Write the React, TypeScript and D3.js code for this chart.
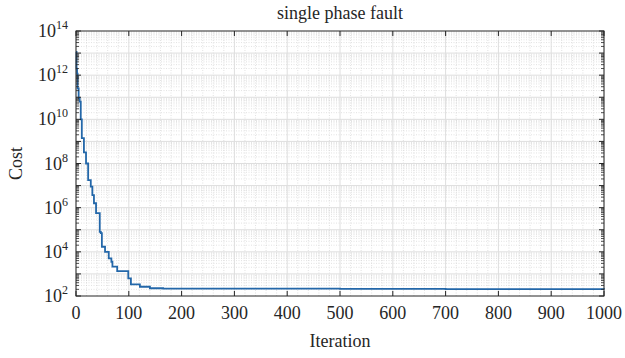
import React from "react";
import * as d3 from "d3";

const iterations = [0, 1, 2, 3, 5, 7, 9, 11, 15, 19, 23, 28, 31, 34, 38, 45, 47, 49, 55, 62, 67, 69, 78, 99, 104, 121, 140, 165, 300, 500, 700, 1000];
const logCost = [13.05, 12.3, 12.07, 11.4, 10.96, 10.8, 10.0, 9.15, 8.5, 8.0, 7.25, 6.95, 6.57, 6.2, 5.75, 4.9, 4.85, 4.23, 4.0, 3.7, 3.55, 3.33, 3.13, 2.8, 2.53, 2.42, 2.35, 2.33, 2.33, 2.32, 2.31, 2.3];
const costs = logCost.map((l) => Math.pow(10, l));
const xTicks = [0, 100, 200, 300, 400, 500, 600, 700, 800, 900, 1000];
const yTickExps = [2, 4, 6, 8, 10, 12, 14];

const W = 625, H = 358;
const M = { left: 76, right: 21, top: 31, bottom: 62 };

export default function App() {
  const x = d3.scaleLinear().domain([0, 1000]).range([M.left, W - M.right]);
  const y = d3.scaleLog().domain([1e2, 1e14]).range([H - M.bottom, M.top]);
  const x0 = M.left, x1 = W - M.right, y0 = H - M.bottom, y1 = M.top;

  const minorY: number[] = [];
  for (let e = 2; e < 14; e++) for (let k = 2; k <= 9; k++) minorY.push(k * Math.pow(10, e));
  const decadeY: number[] = [];
  for (let e = 3; e < 14; e++) decadeY.push(Math.pow(10, e));
  const minorX: number[] = [];
  for (let v = 20; v < 1000; v += 20) if (v % 100 !== 0) minorX.push(v);

  const pts = iterations.map((it, i) => [it, costs[i]] as [number, number]);
  const line = d3.line<[number, number]>().x((d) => x(d[0])).y((d) => y(d[1])).curve(d3.curveStepAfter);

  const font = "'Liberation Serif', 'DejaVu Serif', serif";
  const axisColor = "#262626";

  return (
    <svg width={W} height={H} style={{ position: "absolute", left: 0, top: 0 }} fontFamily={font}>
      <rect x={0} y={0} width={W} height={H} fill="#fff" />
      <rect x={x0} y={y1} width={x1 - x0} height={y0 - y1} fill="#fff" />
      {minorY.map((v, i) => (
        <line key={"my" + i} x1={x0} x2={x1} y1={y(v)} y2={y(v)} stroke="#cfcfcf" strokeWidth={0.6} strokeDasharray="1,1.5" />
      ))}
      {minorX.map((v, i) => (
        <line key={"mx" + i} x1={x(v)} x2={x(v)} y1={y0} y2={y1} stroke="#cfcfcf" strokeWidth={0.6} strokeDasharray="1,1.5" />
      ))}
      {decadeY.map((v, i) => (
        <line key={"gy" + i} x1={x0} x2={x1} y1={y(v)} y2={y(v)} stroke="#dedede" strokeWidth={1} />
      ))}
      {xTicks.map((v, i) => (
        <line key={"gx" + i} x1={x(v)} x2={x(v)} y1={y0} y2={y1} stroke="#dedede" strokeWidth={1} />
      ))}
      <path d={line(pts) || ""} fill="none" stroke="#2367a9" strokeWidth={1.8} />
      <rect x={x0} y={y1} width={x1 - x0} height={y0 - y1} fill="none" stroke={axisColor} strokeWidth={1} />
      {xTicks.map((v, i) => (
        <g key={"xt" + i}>
          <line x1={x(v)} x2={x(v)} y1={y0} y2={y0 - 5} stroke={axisColor} />
          <line x1={x(v)} x2={x(v)} y1={y1} y2={y1 + 5} stroke={axisColor} />
          <text x={x(v)} y={y0 + 23} textAnchor="middle" fontSize={18} fill={axisColor}>{v}</text>
        </g>
      ))}
      {decadeY.concat([1e2, 1e14]).map((v, i) => (
        <g key={"yt" + i}>
          <line x1={x0} x2={x0 + 5} y1={y(v)} y2={y(v)} stroke={axisColor} />
          <line x1={x1} x2={x1 - 5} y1={y(v)} y2={y(v)} stroke={axisColor} />
        </g>
      ))}
      {minorY.map((v, i) => (
        <g key={"ymt" + i}>
          <line x1={x0} x2={x0 + 3} y1={y(v)} y2={y(v)} stroke={axisColor} strokeWidth={0.8} />
          <line x1={x1} x2={x1 - 3} y1={y(v)} y2={y(v)} stroke={axisColor} strokeWidth={0.8} />
        </g>
      ))}
      {yTickExps.map((e, i) => (
        <text key={"yl" + i} x={x0 - 8} y={y(Math.pow(10, e)) + 6} textAnchor="end" fontSize={18} fill={axisColor}>
          10<tspan dy={-8} fontSize={12}>{e}</tspan>
        </text>
      ))}
      <text x={(x0 + x1) / 2} y={19} textAnchor="middle" fontSize={18} fill={axisColor}>single phase fault</text>
      <text x={(x0 + x1) / 2} y={347} textAnchor="middle" fontSize={18} fill={axisColor}>Iteration</text>
      <text transform={`translate(22,${(y0 + y1) / 2}) rotate(-90)`} textAnchor="middle" fontSize={18} fill={axisColor}>Cost</text>
    </svg>
  );
}
